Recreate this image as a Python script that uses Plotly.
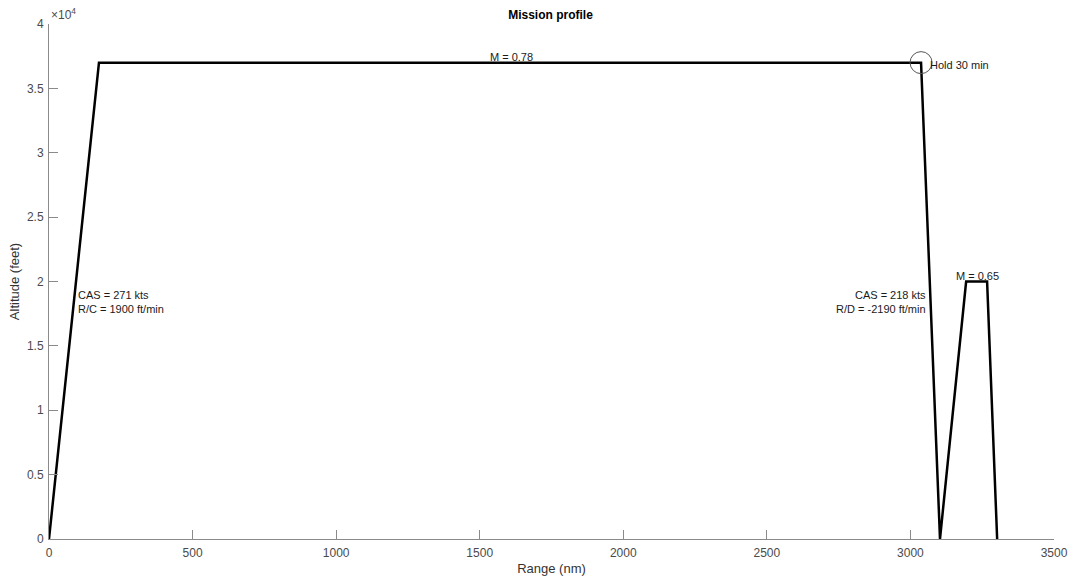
import plotly.graph_objects as go

# Flight profile: range (nm) vs altitude (ft)
range_nm = [0, 174, 3037, 3103, 3194, 3267, 3302]
altitude_ft = [0, 37000, 37000, 0, 20000, 20000, 0]

# Hold point at end of cruise
hold_x = [3037]
hold_y = [37000]

y_tickvals = [0, 5000, 10000, 15000, 20000, 25000, 30000, 35000, 40000]
y_ticktext = ["0", "0.5", "1", "1.5", "2", "2.5", "3", "3.5", "4"]
x_tickvals = [0, 500, 1000, 1500, 2000, 2500, 3000, 3500]

FONT = "Liberation Sans, Arial, Helvetica, sans-serif"
TXT = "#1a1a1a"
AX = "#8a8a8a"
LBL = "#4a4a4a"

fig = go.Figure()
fig.add_trace(go.Scatter(
    x=range_nm, y=altitude_ft, mode="lines",
    line=dict(color="black", width=2.5), showlegend=False, hoverinfo="skip"))
fig.add_trace(go.Scatter(
    x=hold_x, y=hold_y, mode="markers",
    marker=dict(symbol="circle-open", size=22, color="#555555", line=dict(width=1)),
    showlegend=False, hoverinfo="skip"))

annots = [
    dict(x=1530, y=37450, text="M = 0.78", xanchor="left", yanchor="middle"),
    dict(x=3062, y=36800, text="Hold 30 min", xanchor="left", yanchor="middle"),
    dict(x=94, y=18400, text="CAS = 271 kts<br>R/C = 1900 ft/min", xanchor="left", yanchor="middle", align="left"),
    dict(x=3062, y=18400, text="CAS = 218 kts<br>R/D = -2190 ft/min", xanchor="right", yanchor="middle", align="right"),
    dict(x=3232, y=20450, text="M = 0.65", xanchor="center", yanchor="middle"),
]
for a in annots:
    fig.add_annotation(xref="x", yref="y", showarrow=False,
                       font=dict(family=FONT, size=11, color=TXT), **a)

fig.add_annotation(xref="paper", yref="paper", x=0.0, y=1.0, xanchor="left", yanchor="bottom",
                   text="×10<sup>4</sup>", showarrow=False,
                   font=dict(family=FONT, size=12, color=LBL))

fig.update_layout(
    width=1070, height=579,
    margin=dict(l=49, r=16, t=24, b=40, autoexpand=False),
    paper_bgcolor="white", plot_bgcolor="white",
    title=dict(text="<b>Mission profile</b>", x=0.5145, xanchor="center", y=0.975, yanchor="middle",
               font=dict(family=FONT, size=12, color="black")),
    font=dict(family=FONT, size=12, color=LBL),
)
fig.update_xaxes(range=[0, 3500], tickvals=x_tickvals, ticks="inside", ticklen=9,
                 tickcolor=AX, showline=True, linecolor=AX, linewidth=1, mirror=False,
                 showgrid=False, zeroline=False, automargin=False, ticklabelstandoff=3,
                 tickfont=dict(family=FONT, size=12, color=LBL),
                 title=dict(text="Range (nm)", standoff=4, font=dict(family=FONT, size=13, color="#333333")))
fig.update_yaxes(range=[0, 40000], tickvals=y_tickvals, ticktext=y_ticktext, ticks="inside", ticklen=9,
                 tickcolor=AX, showline=True, linecolor=AX, linewidth=1, mirror=False,
                 showgrid=False, zeroline=False, automargin=False, ticklabelstandoff=2,
                 tickfont=dict(family=FONT, size=12, color=LBL),
                 title=dict(text="Altitude (feet)", standoff=4, font=dict(family=FONT, size=13, color="#333333")))

fig.write_html("out.html")
